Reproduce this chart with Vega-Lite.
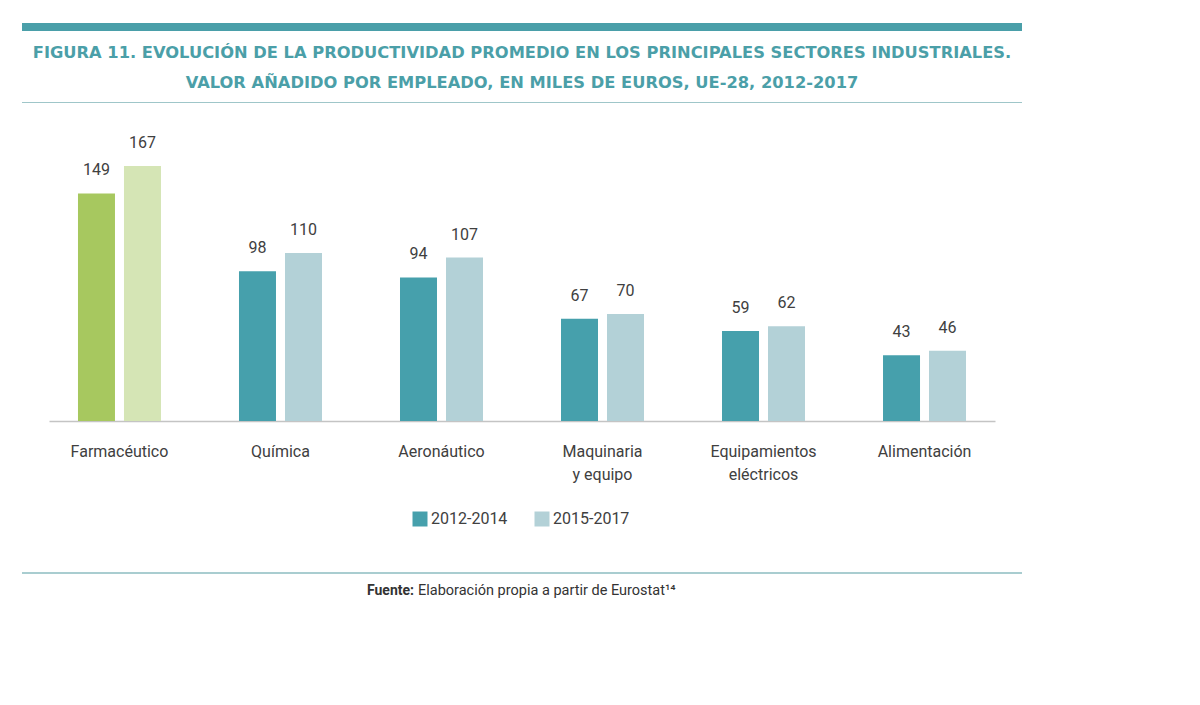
{
  "$schema": "https://vega.github.io/schema/vega-lite/v6.json",
  "background": "white",
  "padding": {"top": 23, "left": 22, "right": 0, "bottom": 0},
  "spacing": 0,
  "center": true,
  "config": {"view": {"stroke": null}, "font": "Roboto"},
  "vconcat": [
    {
      "width": 1000, "height": 8,
      "view": {"fill": "#4a9fa9", "stroke": null},
      "data": {"values": [{}]},
      "mark": {"type": "text", "fontSize": 0},
      "encoding": {"text": {"value": ""}}
    },
    {
      "width": 1000, "height": 13,
      "data": {"values": [{}]},
      "mark": {"type": "text", "fontSize": 0},
      "encoding": {"text": {"value": ""}}
    },
    {
      "width": 1000, "height": 1,
      "view": {"fill": "#9fc6c9", "stroke": null},
      "title": {
        "text": ["FIGURA 11. EVOLUCIÓN DE LA PRODUCTIVIDAD PROMEDIO EN LOS PRINCIPALES SECTORES INDUSTRIALES.", "VALOR AÑADIDO POR EMPLEADO, EN MILES DE EUROS, UE-28, 2012-2017"],
        "anchor": "middle",
        "font": "DejaVu Sans",
        "fontSize": 16.3,
        "fontWeight": "bold",
        "color": "#4b9fa8",
        "lineHeight": 30,
        "offset": 11
      },
      "data": {"values": [{}]},
      "mark": {"type": "text", "fontSize": 0},
      "encoding": {"text": {"value": ""}}
    },
    {
      "width": 946, "height": 318,
      "data": {"values": [
        {"sector": "Farmacéutico", "periodo": "2012-2014", "valor": 149},
        {"sector": "Farmacéutico", "periodo": "2015-2017", "valor": 167},
        {"sector": "Química", "periodo": "2012-2014", "valor": 98},
        {"sector": "Química", "periodo": "2015-2017", "valor": 110},
        {"sector": "Aeronáutico", "periodo": "2012-2014", "valor": 94},
        {"sector": "Aeronáutico", "periodo": "2015-2017", "valor": 107},
        {"sector": "Maquinaria y equipo", "periodo": "2012-2014", "valor": 67},
        {"sector": "Maquinaria y equipo", "periodo": "2015-2017", "valor": 70},
        {"sector": "Equipamientos eléctricos", "periodo": "2012-2014", "valor": 59},
        {"sector": "Equipamientos eléctricos", "periodo": "2015-2017", "valor": 62},
        {"sector": "Alimentación", "periodo": "2012-2014", "valor": 43},
        {"sector": "Alimentación", "periodo": "2015-2017", "valor": 46}
      ]},
      "encoding": {
        "x": {
          "field": "sector", "type": "nominal", "sort": null,
          "scale": {"paddingInner": 0.4845, "paddingOuter": 0.18},
          "axis": {
            "title": null, "labelAngle": 0, "ticks": false, "tickSize": 0,
            "domainColor": "#c4c4c4", "domainWidth": 1.5,
            "labelFont": "Roboto", "labelFontSize": 16, "labelColor": "#404040",
            "labelPadding": 22, "labelLineHeight": 23,
            "labelExpr": "datum.label == 'Maquinaria y equipo' ? ['Maquinaria', 'y equipo'] : datum.label == 'Equipamientos eléctricos' ? ['Equipamientos', 'eléctricos'] : datum.label"
          }
        },
        "xOffset": {"field": "periodo", "type": "nominal", "scale": {"paddingInner": 0.1957, "paddingOuter": 0}},
        "y": {"field": "valor", "type": "quantitative", "scale": {"domain": [0, 208.2]}, "axis": null}
      },
      "layer": [
        {
          "mark": {"type": "bar"},
          "encoding": {
            "color": {
              "condition": [
                {"test": "datum.sector === 'Farmacéutico' && datum.periodo === '2012-2014'", "value": "#a7c85f"},
                {"test": "datum.sector === 'Farmacéutico' && datum.periodo === '2015-2017'", "value": "#d5e5b5"}
              ],
              "field": "periodo", "type": "nominal",
              "scale": {"domain": ["2012-2014", "2015-2017"], "range": ["#46a0ac", "#b3d1d7"]},
              "legend": {
                "title": null, "orient": "none", "direction": "horizontal",
                "legendX": 390, "legendY": 488, "padding": 0,
                "symbolType": "square", "symbolSize": 225, "symbolStrokeWidth": 0,
                "labelFont": "Roboto", "labelFontSize": 16, "labelColor": "#404040",
                "labelOffset": 3, "columnPadding": 26
              }
            }
          }
        },
        {
          "mark": {"type": "text", "baseline": "alphabetic", "dy": -18, "font": "Roboto", "fontSize": 16, "color": "#404040"},
          "encoding": {"text": {"field": "valor", "type": "quantitative"}}
        }
      ]
    },
    {
      "width": 1000, "height": 90,
      "data": {"values": [{}]},
      "mark": {"type": "text", "fontSize": 0},
      "encoding": {"text": {"value": ""}}
    },
    {
      "width": 1000, "height": 2,
      "view": {"fill": "#a9cdd0", "stroke": null},
      "data": {"values": [{}]},
      "mark": {"type": "text", "fontSize": 0},
      "encoding": {"text": {"value": ""}}
    },
    {
      "width": 1000, "height": 34,
      "data": {"values": [{}]},
      "layer": [
        {
          "mark": {"type": "text", "align": "right", "dx": -108, "font": "Roboto", "fontSize": 14, "fontWeight": "bold", "color": "#333333"},
          "encoding": {"text": {"value": "Fuente:"}}
        },
        {
          "mark": {"type": "text", "align": "left", "dx": -104, "font": "Roboto", "fontSize": 14.5, "color": "#333333"},
          "encoding": {"text": {"value": "Elaboración propia a partir de Eurostat¹⁴"}}
        }
      ]
    }
  ]
}
